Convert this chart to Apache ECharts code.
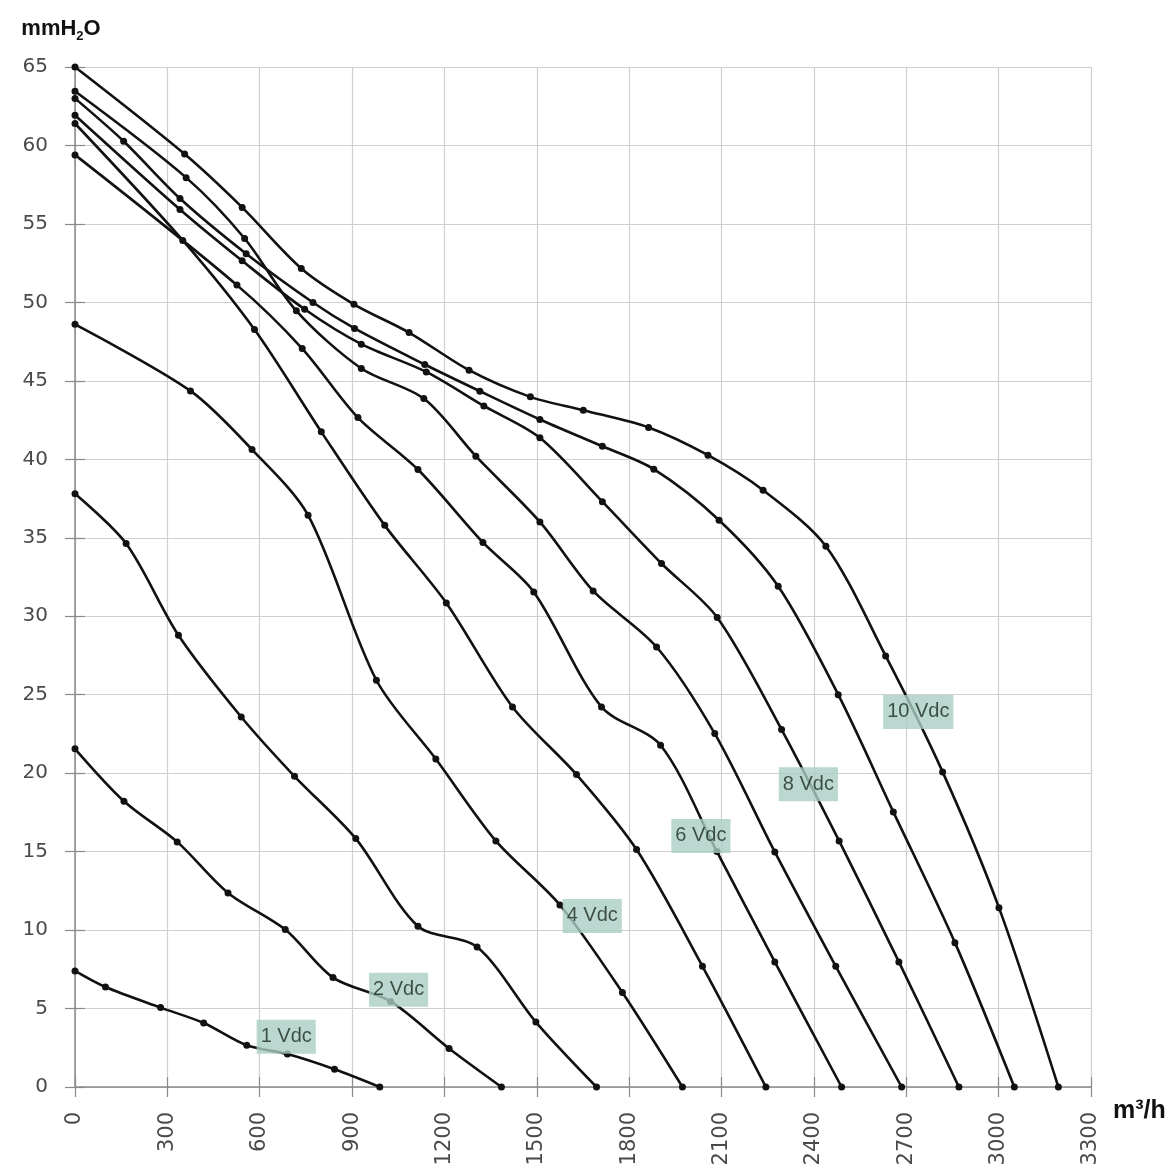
<!DOCTYPE html>
<html>
<head>
<meta charset="utf-8">
<script src="https://cdn.jsdelivr.net/npm/echarts@6/dist/echarts.min.js"></script>
<style>
html,body{margin:0;padding:0;background:#fff;}
#chart{width:1176px;height:1172px;}
</style>
</head>
<body>
<div id="chart"></div>
<script>
// Airflow (m3/h) vs pressure (mmH2O) for each control voltage
const curve1V  = [[0,7.4],[99,6.37],[278,5.06],[418,4.08],[558,2.66],[690,2.1],[843,1.13],[990,0]];
const curve2V  = [[0,21.55],[159,18.21],[332,15.62],[497,12.37],[683,10.03],[838,6.97],[1025,5.45],[1215,2.45],[1385,0]];
const curve3V  = [[0,37.8],[166,34.63],[336,28.79],[540,23.58],[713,19.8],[912,15.83],[1114,10.24],[1306,8.92],[1497,4.14],[1694,0]];
const curve4V  = [[0,48.6],[375,44.36],[575,40.62],[757,36.44],[979,25.92],[1172,20.9],[1367,15.68],[1575,11.6],[1778,6.02],[1973,0]];
const curve5V  = [[0,61.4],[350,53.95],[583,48.27],[800,41.75],[1006,35.79],[1206,30.85],[1421,24.22],[1629,19.91],[1824,15.13],[2038,7.69],[2244,0]];
const curve6V  = [[0,59.4],[526,51.1],[738,47.06],[919,42.66],[1114,39.35],[1325,34.7],[1490,31.55],[1710,24.22],[1902,21.78],[2085,15.0],[2273,7.97],[2490,0]];
const curve7V  = [[0,63.45],[361,57.95],[551,54.07],[719,49.46],[930,45.79],[1133,43.87],[1302,40.2],[1510,36.01],[1683,31.61],[1889,28.04],[2078,22.52],[2273,14.98],[2471,7.69],[2685,0]];
const curve8V  = [[0,61.93],[341,55.92],[543,52.65],[746,49.56],[930,47.34],[1141,45.57],[1328,43.4],[1510,41.37],[1713,37.3],[1905,33.36],[2086,29.92],[2295,22.78],[2482,15.68],[2676,7.97],[2871,0]];
const curve9V  = [[0,63.0],[158,60.27],[341,56.62],[556,53.1],[773,49.99],[908,48.34],[1136,46.04],[1315,44.34],[1510,42.54],[1713,40.83],[1880,39.37],[2092,36.12],[2284,31.91],[2479,25.0],[2658,17.53],[2858,9.2],[3051,0]];
const curve10V = [[0,65],[356,59.45],[543,56.05],[735,52.16],[906,49.88],[1085,48.08],[1280,45.68],[1479,43.98],[1651,43.13],[1863,42.03],[2056,40.26],[2235,38.03],[2439,34.46],[2633,27.47],[2818,20.08],[3001,11.43],[3194,0]];

const curveNames = ['1 Vdc','2 Vdc','3 Vdc','4 Vdc','5 Vdc','6 Vdc','7 Vdc','8 Vdc','9 Vdc','10 Vdc'];
const curves = [curve1V,curve2V,curve3V,curve4V,curve5V,curve6V,curve7V,curve8V,curve9V,curve10V];

// curve tags: [airflow, pressure, text]
const curveTags = [[686,3.2,'1 Vdc'],[1051,6.2,'2 Vdc'],[1680,10.9,'4 Vdc'],[2033,16.0,'6 Vdc'],[2382,19.3,'8 Vdc'],[2739,23.9,'10 Vdc']];

const xMin = 0, xMax = 3300, xStep = 300;
const yMin = 0, yMax = 65, yStep = 5;

const FONT = '"Liberation Sans", Arial, Helvetica, sans-serif';
const NUMFONT = '"DejaVu Sans", "Liberation Sans", sans-serif';
const chart = echarts.init(document.getElementById('chart'), null, {renderer:'canvas'});

const series = curves.map((d, i) => ({
  name: curveNames[i],
  type: 'line',
  data: d,
  smooth: 0.3,
  symbol: 'circle',
  symbolSize: 7,
  showSymbol: true,
  lineStyle: {color:'#111', width: 2.6},
  itemStyle: {color:'#111'},
  emphasis: {disabled: true},
  z: 3,
  animation: false
}));

series.push({
  type: 'scatter',
  data: curveTags,
  symbolSize: 0,
  z: 10,
  zlevel: 1,
  animation: false,
  label: {
    show: true,
    position: 'inside',
    formatter: p => p.data[2],
    fontFamily: FONT,
    fontSize: 20,
    color: '#1d2a26',
    backgroundColor: '#a9cec3',
    padding: [7,4,7,4],
    lineHeight: 20
  },
  emphasis: {disabled: true}
});

const option = {
  backgroundColor: '#fff',
  animation: false,
  grid: {left: 75, right: 85, top: 67, bottom: 85, containLabel: false},
  xAxis: [{
    type: 'value', min: xMin, max: xMax, interval: xStep,
    name: 'm³/h', nameLocation: 'end', nameGap: 22,
    nameTextStyle: {fontFamily: FONT, fontSize: 25, fontWeight: 'bold', color: '#111', verticalAlign: 'top', padding: [12,0,0,0]},
    axisLine: {show: true, lineStyle: {color: '#8a8a8a', width: 1.5}},
    axisTick: {show: true, length: 10, lineStyle: {color: '#8a8a8a', width: 1.2}},
    axisLabel: {rotate: 90, margin: 25, fontFamily: NUMFONT, fontSize: 21, color: '#4a4a4a', formatter: v => String(v)},
    splitLine: {show: true, lineStyle: {color: '#cfcfcf', width: 1.2}}
  },{
    type: 'value', min: xMin, max: xMax, interval: xStep, position: 'bottom',
    axisLine: {show: false},
    axisTick: {show: true, inside: true, length: 10, lineStyle: {color: '#8a8a8a', width: 1.2}},
    axisLabel: {show: false}, splitLine: {show: false}
  }],
  yAxis: [{
    type: 'value', min: yMin, max: yMax, interval: yStep,
    name: '{b|mmH}{s|2}{b|O}', nameLocation: 'end', nameGap: 24,
    nameTextStyle: {
      padding: [0,28,0,0],
      rich: {
        b: {fontFamily: FONT, fontSize: 22, fontWeight: 'bold', color: '#111', lineHeight: 28, verticalAlign: 'middle'},
        s: {fontFamily: FONT, fontSize: 13, fontWeight: 'bold', color: '#111', lineHeight: 28, verticalAlign: 'bottom', padding: [14,0,0,0]}
      }
    },
    axisLine: {show: true, lineStyle: {color: '#8a8a8a', width: 1.5}},
    axisTick: {show: true, length: 10, lineStyle: {color: '#8a8a8a', width: 1.2}},
    axisLabel: {margin: 27, fontFamily: NUMFONT, fontSize: 20, color: '#4a4a4a'},
    splitLine: {show: true, lineStyle: {color: '#cfcfcf', width: 1.2}}
  },{
    type: 'value', min: yMin, max: yMax, interval: yStep, position: 'left',
    axisLine: {show: false},
    axisTick: {show: true, inside: true, length: 10, lineStyle: {color: '#8a8a8a', width: 1.2}},
    axisLabel: {show: false}, splitLine: {show: false}
  }],
  series: series
};
chart.setOption(option);
</script>
</body>
</html>
